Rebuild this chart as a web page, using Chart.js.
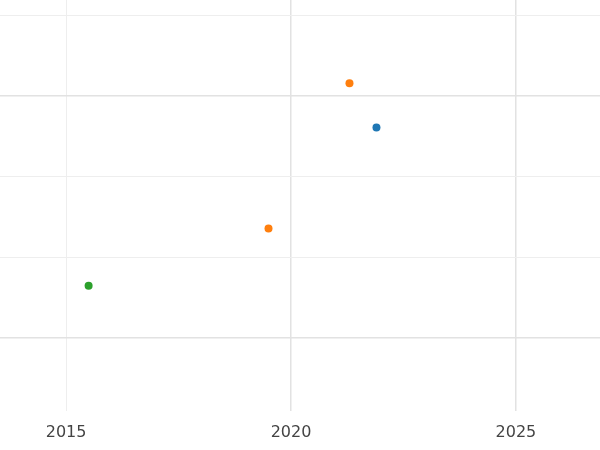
<!DOCTYPE html><html><head><script src="https://cdn.jsdelivr.net/npm/chart.js"></script>
<style>body{margin:0;overflow:hidden}#w{width:608px;height:458px;margin:-4px 0 0 -4px}</style></head><body><div id="w"><canvas id="c"></canvas></div>
<script>
const xTicks=[2015,2020,2025];
const yTicks=[1,2,3,4,5];
const blue=[{x:2021.9,y:3.61}];
const orange=[{x:2021.3,y:4.16},{x:2019.5,y:2.36}];
const green=[{x:2015.5,y:1.65}];
new Chart(document.getElementById('c'),{type:'scatter',data:{datasets:[
{data:blue,backgroundColor:'#1f77b4',borderColor:'#1f77b4'},
{data:orange,backgroundColor:'#ff7f0e',borderColor:'#ff7f0e'},
{data:green,backgroundColor:'#2ca02c',borderColor:'#2ca02c'}]},
options:{animation:false,responsive:true,maintainAspectRatio:false,layout:{padding:0},
elements:{point:{radius:4,borderWidth:0}},
plugins:{legend:{display:false},tooltip:{enabled:false}},
scales:{
x:{type:'linear',min:2013.53,max:2026.87,afterBuildTicks:a=>{a.ticks=xTicks.map(v=>({value:v}))},
 border:{display:false},grid:{color:c=>c.tick&&c.tick.value===2015?'#eeeeee':'#e2e2e2',lineWidth:c=>c.tick&&c.tick.value===2015?1:1.5,drawTicks:false},
 ticks:{color:'#444',font:{size:16,family:'DejaVu Sans'},padding:12,callback:v=>String(v)}},
y:{min:0.1,max:5.19,afterBuildTicks:a=>{a.ticks=yTicks.map(v=>({value:v}))},
 border:{display:false},ticks:{display:false},grid:{color:c=>c.tick&&(c.tick.value===1||c.tick.value===4)?'#e2e2e2':'#eeeeee',lineWidth:c=>c.tick&&(c.tick.value===1||c.tick.value===4)?1.5:1,drawTicks:false}}
}}});
</script></body></html>
